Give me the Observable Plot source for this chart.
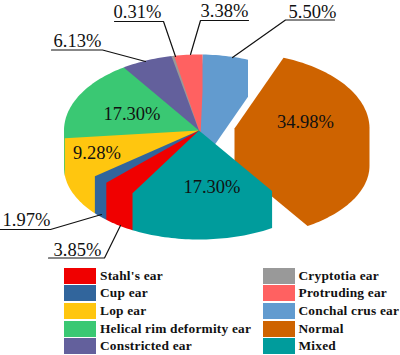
<!DOCTYPE html>
<html>
<head>
<meta charset="utf-8">
<script src="https://cdn.jsdelivr.net/npm/d3@7"></script>
<script src="https://cdn.jsdelivr.net/npm/@observablehq/plot@0.6"></script>
<style>
html,body{margin:0;padding:0;background:#fff;overflow:hidden}
#legend{position:relative;height:90px;font:bold 13.4px "Liberation Serif",serif;color:#111;letter-spacing:.2px}
.it{position:absolute;height:16px;line-height:16px;white-space:nowrap}
.sw{position:absolute;left:0;top:0;width:32px;height:16px}
.lb{position:absolute;left:36px;top:0}
</style>
</head>
<body>
<div id="chart"></div>
<div id="legend"></div>
<script>
const categories = ["Stahl's ear","Cup ear","Lop ear","Helical rim deformity ear","Constricted ear","Cryptotia ear","Protruding ear","Conchal crus ear","Normal","Mixed"];
const values = [3.85,1.97,9.28,17.30,6.13,0.31,3.38,5.50,34.98,17.30];
const colors = ["#f00000","#31659c","#ffc60f","#3ac873","#63609c","#999999","#ff6161","#629bcf","#ce6300","#009c9c"];

// layout of the pie, in page units
const W = 400, H = 264;
const cx = 198.5, cy = 130, rx = 135, ryBack = 76, ryFront = 72, depth = 37;
const startDeg = 209.5;
const explode = {Normal: [35.5, -2]};
const drawOrder = [7,6,5,4,3,2,1,0,8,9];

// external labels: [category, label x, label y, underline y, underline far end, underline near end, tip x, tip y]
const callouts = [
  ["Constricted ear", 53, 46, 49.5, 51, 102, 145, 61],
  ["Cryptotia ear", 113, 17, 21, 114, 163, 175, 56],
  ["Protruding ear", 200, 16, 20, 248, 200, 190, 54],
  ["Conchal crus ear", 288, 17, 19.5, 334, 285, 232, 57],
  ["Cup ear", 2, 225, 229, 0, 50, 101, 214],
  ["Stahl's ear", 53, 255, 257.5, 48, 104, 120, 225]
];
// internal labels: [category, centre x, label y]
const inner = [
  ["Normal", 305, 127.5],
  ["Helical rim deformity ear", 131.5, 120],
  ["Lop ear", 96.5, 159],
  ["Mixed", 211.5, 193]
];

const total = d3.sum(values);
const fmt = c => values[categories.indexOf(c)].toFixed(2) + "%";

let acc = 0;
const spans = values.map(v => { const a0 = acc; acc += v; return [startDeg + a0/total*360, startDeg + acc/total*360]; });

const poly = [];
drawOrder.forEach(i => {
  const [a0, a1] = spans[i];
  const [dx, dy] = explode[categories[i]] || [0, 0];
  const pts = [[cx+dx, cy+dy]];
  const n = Math.max(2, Math.ceil((a1-a0)/1.5));
  for (let k = 0; k <= n; k++) {
    const t = (a0 + (a1-a0)*k/n) * Math.PI/180;
    const c = Math.cos(t);
    pts.push([cx + dx + rx*Math.sin(t), cy + dy - c*(c > 0 ? ryBack : ryFront)]);
  }
  const all = pts.concat(pts.map(p => [p[0], p[1] + depth]));
  d3.polygonHull(all).forEach(p => poly.push({id: categories[i], x: p[0], y: p[1]}));
});

const leaders = [];
callouts.forEach(([c, , , uy, u0, u1, tx, ty]) => {
  leaders.push({id: c, x: u0, y: uy});
  leaders.push({id: c, x: u1, y: uy});
  leaders.push({id: c, x: tx, y: ty});
});

const serif = "Liberation Serif";
const chart = Plot.plot({
  width: W, height: H,
  margin: 0,
  x: {domain: [0, W], range: [0, W], axis: null},
  y: {domain: [0, H], range: [0, H], axis: null},
  color: {domain: categories, range: colors},
  style: {background: "#fff", overflow: "visible"},
  marks: [
    Plot.line(poly, {x: "x", y: "y", z: "id", fill: "id", stroke: null, curve: "linear-closed"}),
    Plot.line(leaders, {x: "x", y: "y", z: "id", stroke: "#111", strokeWidth: 1.2, curve: "linear"}),
    Plot.text(callouts, {x: d => d[1], y: d => d[2], text: d => fmt(d[0]), textAnchor: "start", lineAnchor: "bottom", fontFamily: serif, fontSize: 18.5, fill: "#111", dy: 0}),
    Plot.text(inner, {x: d => d[1], y: d => d[2], text: d => fmt(d[0]), textAnchor: "middle", lineAnchor: "bottom", fontFamily: serif, fontSize: 18.5, fill: "#111", dy: -0.5})
  ]
});
document.getElementById("chart").appendChild(chart);
chart.style.display = "block";

const legend = document.getElementById("legend");
legend.style.marginTop = "3.7px";
categories.forEach((c, i) => {
  const col = i < 5 ? 0 : 1, row = i % 5;
  const it = document.createElement("div");
  it.className = "it";
  it.style.left = (col ? 262.5 : 64) + "px";
  it.style.top = (row * 17.7) + "px";
  it.innerHTML = `<span class="sw" style="background:${colors[i]}"></span><span class="lb"></span>`;
  it.querySelector(".lb").textContent = c;
  legend.appendChild(it);
});
</script>
</body>
</html>
